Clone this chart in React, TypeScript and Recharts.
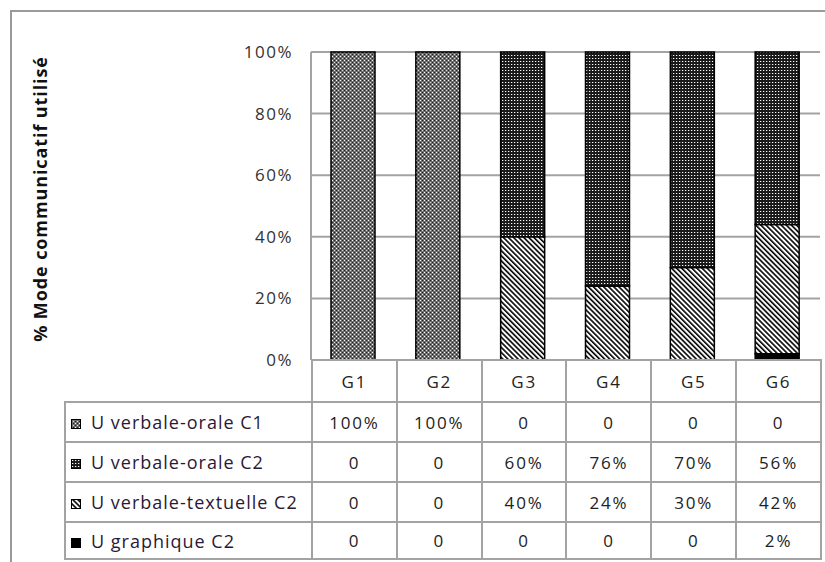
import { BarChart, Bar, XAxis, YAxis, CartesianGrid } from "recharts";

const categories = ["G1", "G2", "G3", "G4", "G5", "G6"];
const oraleC1 = [100, 100, 0, 0, 0, 0];
const oraleC2 = [0, 0, 60, 76, 70, 56];
const textuelleC2 = [0, 0, 40, 24, 30, 42];
const graphiqueC2 = [0, 0, 0, 0, 0, 2];
const yTicks = [0, 20, 40, 60, 80, 100];

const series = [
  { key: "c1", name: "U verbale-orale C1", values: oraleC1, fill: "url(#patC1)" },
  { key: "c2", name: "U verbale-orale C2", values: oraleC2, fill: "url(#patC2)" },
  { key: "txt", name: "U verbale-textuelle C2", values: textuelleC2, fill: "url(#patTxt)" },
  { key: "gra", name: "U graphique C2", values: graphiqueC2, fill: "#000" },
];

const data = categories.map((c, i) => ({
  name: c,
  c1: oraleC1[i],
  c2: oraleC2[i],
  txt: textuelleC2[i],
  gra: graphiqueC2[i],
}));

const W = 825;
const H = 562;
const PLOT_L = 311;
const PLOT_R = 820;
const PLOT_T = 52;
const PLOT_B = 360;
const COL_W = (PLOT_R - PLOT_L) / categories.length;
const LINE = "#a3a3a3";
const FONT = "'Open Sans', sans-serif";

const fmt = (v: number) => (v === 0 ? "0" : `${v}%`);

function Patterns() {
  return (
    <defs>
      <pattern id="patC1" width="4" height="4" patternUnits="userSpaceOnUse">
        <rect width="4" height="4" fill="#6e6e6e" />
        <rect x="0" y="0" width="1" height="1" fill="#fff" />
        <rect x="2" y="2" width="1" height="1" fill="#ddd" />
        <rect x="2" y="0" width="1" height="1" fill="#222" />
        <rect x="0" y="2" width="1" height="1" fill="#222" />
      </pattern>
      <pattern id="patC2" width="3" height="3" patternUnits="userSpaceOnUse">
        <rect width="3" height="3" fill="#1a1a1a" />
        <rect x="1" y="1" width="1" height="1" fill="#fff" />
        <rect x="2" y="1" width="1" height="1" fill="#555" />
      </pattern>
      <pattern
        id="patTxt"
        width="3.6"
        height="10"
        patternUnits="userSpaceOnUse"
        patternTransform="rotate(-45)"
      >
        <rect width="3.6" height="10" fill="#fff" />
        <rect x="0" y="0" width="1.6" height="10" fill="#000" />
      </pattern>
    </defs>
  );
}

function Swatch({ fill }: { fill: string }) {
  return (
    <svg width="10" height="10" style={{ verticalAlign: "middle", marginRight: 10 }}>
      <Patterns />
      <rect x="0.5" y="0.5" width="9" height="9" fill={fill} stroke="#000" strokeWidth="1" />
    </svg>
  );
}

export default function App() {
  const cell: React.CSSProperties = {
    border: `2px solid ${LINE}`,
    textAlign: "center",
    padding: 0,
    color: "#222",
  };
  return (
    <div
      style={{
        position: "absolute",
        left: 0,
        top: 0,
        width: W,
        height: H,
        overflow: "hidden",
        background: "#fff",
        fontFamily: FONT,
      }}
    >
      <div
        style={{
          position: "absolute",
          left: 10,
          top: 10,
          width: 900,
          height: 700,
          border: "2px solid #9a9a9a",
        }}
      />
      <div
        style={{
          position: "absolute",
          left: 40,
          top: 199,
          transform: "translate(-50%, -50%) rotate(-90deg)",
          whiteSpace: "nowrap",
          fontWeight: 700,
          fontSize: 18,
          letterSpacing: 0.9,
          color: "#111",
        }}
      >
        % Mode communicatif utilisé
      </div>
      <div style={{ position: "absolute", left: 0, top: 0 }}>
        <BarChart
          width={W}
          height={H}
          data={data}
          margin={{ top: PLOT_T, right: W - PLOT_R, bottom: H - PLOT_B, left: PLOT_L - 70 }}
        >
          <Patterns />
          <CartesianGrid vertical={false} stroke={LINE} strokeWidth={2} />
          <XAxis dataKey="name" hide />
          <YAxis
            width={70}
            domain={[0, 100]}
            ticks={yTicks}
            tickFormatter={(v) => `${v}%`}
            axisLine={{ stroke: LINE, strokeWidth: 2 }}
            tickLine={false}
            tickSize={0}
            tickMargin={18}
            tick={{ fill: "#333", fontSize: 17, fontFamily: FONT, letterSpacing: 1.5 }}
          />
          {series
            .slice()
            .reverse()
            .map((s) => (
              <Bar
                key={s.key}
                dataKey={s.key}
                name={s.name}
                stackId="a"
                fill={s.fill}
                stroke="#000"
                strokeWidth={1.5}
                barSize={44}
                isAnimationActive={false}
              />
            ))}
        </BarChart>
      </div>
      <table
        style={{
          position: "absolute",
          left: 64,
          top: PLOT_B - 1,
          borderCollapse: "collapse",
          tableLayout: "fixed",
          fontSize: 17,
          letterSpacing: 1.8,
          fontFamily: FONT,
        }}
      >
        <colgroup>
          <col style={{ width: PLOT_L - 64 }} />
          {categories.map((c) => (
            <col key={c} style={{ width: COL_W }} />
          ))}
        </colgroup>
        <tbody>
          <tr style={{ height: 42 }}>
            <td style={{ padding: 0, borderRight: `2px solid ${LINE}` }} />
            {categories.map((c) => (
              <td key={c} style={cell}>
                {c}
              </td>
            ))}
          </tr>
          {series.map((s, ri) => (
            <tr key={s.key} style={{ height: ri === series.length - 1 ? 37 : 40 }}>
              <td
                style={{
                  ...cell,
                  textAlign: "left",
                  paddingLeft: 5,
                  whiteSpace: "nowrap",
                  overflow: "hidden",
                  color: "#2b1836",
                  fontSize: 18,
                  letterSpacing: 1.0,
                }}
              >
                <Swatch fill={s.fill} />
                {s.name}
              </td>
              {s.values.map((v, i) => (
                <td key={i} style={cell}>
                  {fmt(v)}
                </td>
              ))}
            </tr>
          ))}
        </tbody>
      </table>
    </div>
  );
}
